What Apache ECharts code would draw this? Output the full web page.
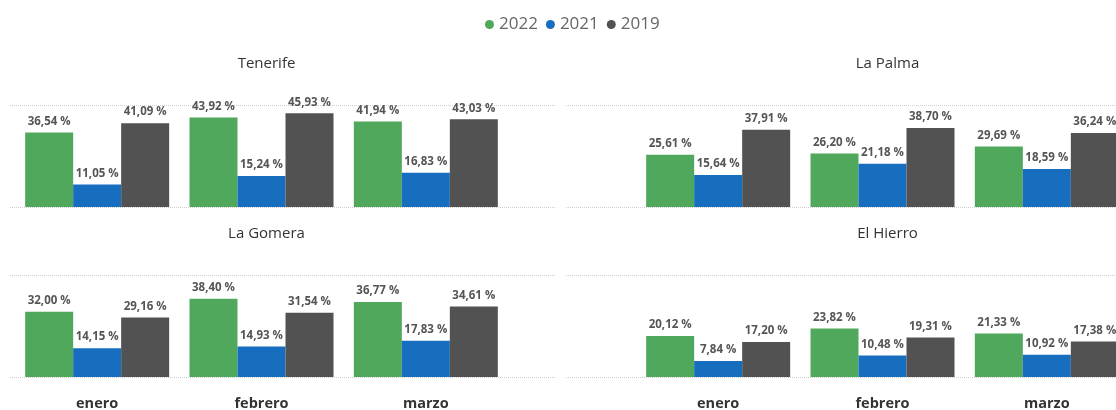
<!DOCTYPE html>
<html>
<head>
<meta charset="utf-8">
<script src="https://cdn.jsdelivr.net/npm/echarts@6/dist/echarts.min.js"></script>
<style>
html,body{margin:0;padding:0;background:#fff;}
#c{width:1116px;height:410px;}
</style>
</head>
<body>
<div id="c"></div>
<script>
const months = ['enero', 'febrero', 'marzo'];
const years = ['2022', '2021', '2019'];
const islands = ['Tenerife', 'La Palma', 'La Gomera', 'El Hierro'];

const tenerife2022 = [36.54, 43.92, 41.94];
const tenerife2021 = [11.05, 15.24, 16.83];
const tenerife2019 = [41.09, 45.93, 43.03];

const laPalma2022 = [25.61, 26.20, 29.69];
const laPalma2021 = [15.64, 21.18, 18.59];
const laPalma2019 = [37.91, 38.70, 36.24];

const laGomera2022 = [32.00, 38.40, 36.77];
const laGomera2021 = [14.15, 14.93, 17.83];
const laGomera2019 = [29.16, 31.54, 34.61];

const elHierro2022 = [20.12, 23.82, 21.33];
const elHierro2021 = [7.84, 10.48, 10.92];
const elHierro2019 = [17.20, 19.31, 17.38];

const islandData = [
  [tenerife2022, tenerife2021, tenerife2019],
  [laPalma2022, laPalma2021, laPalma2019],
  [laGomera2022, laGomera2021, laGomera2019],
  [elHierro2022, elHierro2021, elHierro2019]
];

const colors = ['#50A85D', '#176DBE', '#525252'];
const FONT = 'Open Sans';

// panel layout
const panels = [
  {left: 15, top: 105, showX: false},
  {left: 636, top: 105, showX: false},
  {left: 15, top: 275, showX: true},
  {left: 636, top: 275, showX: true}
];
const PW = 493, PH = 102;

const grids = [], xAxes = [], yAxes = [], series = [], titles = [];

panels.forEach((p, i) => {
  grids.push({left: p.left, top: p.top, width: PW, height: PH, containLabel: false, outerBoundsMode: 'none'});
  xAxes.push({
    type: 'category', gridIndex: i, data: months,
    axisLine: {show: false}, axisTick: {show: false},
    axisLabel: {show: p.showX, margin: 19, fontFamily: FONT, fontSize: 14.5, fontWeight: 'bold', color: '#333'}
  });
  yAxes.push({
    type: 'value', gridIndex: i, min: 0, max: 50, interval: 50,
    axisLabel: {show: false}, axisLine: {show: false}, axisTick: {show: false},
    splitLine: {show: false}
  });
  titles.push({
    text: islands[i], left: p.left + PW / 2, top: p.top - 54, textAlign: 'center',
    textStyle: {fontFamily: FONT, fontSize: 15, fontWeight: 'normal', color: '#333'}
  });
  years.forEach((y, k) => {
    series.push({
      type: 'bar', name: y, xAxisIndex: i, yAxisIndex: i,
      data: islandData[i][k],
      barWidth: 48, barGap: '0%',
      itemStyle: {color: colors[k]},
      label: {
        show: true, position: 'top', distance: 5,
        fontFamily: FONT, fontSize: 11.5, fontWeight: 'bold', color: '#555',
        formatter: v => v.value.toFixed(2).replace('.', ',') + ' %'
      },
      emphasis: {disabled: true}
    });
  });
});

// background gridline panels (dotted lines spanning each half)
const bg = [
  {left: 10, width: 546, top: 105},
  {left: 566, width: 550, top: 105},
  {left: 10, width: 546, top: 275},
  {left: 566, width: 550, top: 275}
];
bg.forEach((b) => {
  const gi = grids.length;
  grids.push({left: b.left, top: b.top, width: b.width, height: PH, outerBoundsMode: 'none'});
  xAxes.push({type: 'value', gridIndex: gi, show: false, min: 0, max: 1});
  yAxes.push({
    type: 'value', gridIndex: gi, min: 0, max: 50, interval: 50,
    axisLabel: {show: false}, axisLine: {show: false}, axisTick: {show: false},
    splitLine: {show: true, lineStyle: {color: '#cfcfcf', type: 'dotted', width: 1}}
  });
});

const chart = echarts.init(document.getElementById('c'), null, {renderer: 'canvas'});
chart.setOption({
  animation: false,
  backgroundColor: '#fff',
  title: titles,
  legend: {
    data: years, left: 480, top: 11,
    icon: 'circle', itemWidth: 9, itemHeight: 9, itemGap: 8,
    textStyle: {fontFamily: FONT, fontSize: 17, color: '#666'}
  },
  grid: grids,
  xAxis: xAxes,
  yAxis: yAxes,
  series: series
});
</script>
</body>
</html>
